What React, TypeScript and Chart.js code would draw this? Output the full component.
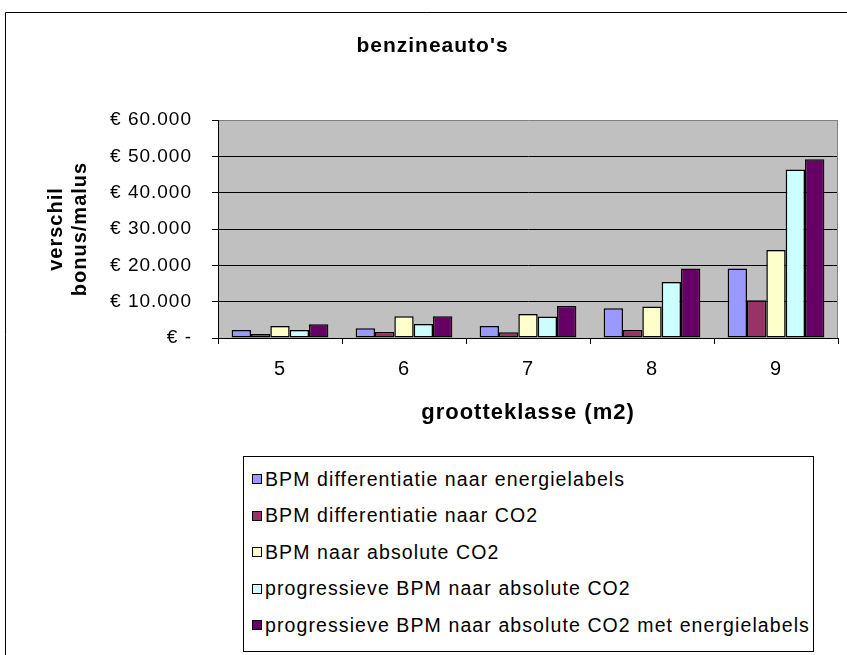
import React, { useEffect, useRef } from "react";
import { Chart, registerables } from "chart.js";

Chart.register(...registerables);

const chartTitle = "benzineauto's";
const categories = ["5", "6", "7", "8", "9"];
const seriesNames = [
  "BPM differentiatie naar energielabels",
  "BPM differentiatie naar CO2",
  "BPM naar absolute CO2",
  "progressieve BPM naar absolute CO2",
  "progressieve BPM naar absolute CO2 met energielabels",
];
const diffEnergielabels = [2200, 2700, 3300, 8200, 19100];
const diffCO2 = [1100, 1650, 1550, 2200, 10400];
const absoluteCO2 = [3300, 6000, 6600, 8650, 24200];
const progAbsoluteCO2 = [2200, 3850, 5900, 15400, 46400];
const progAbsoluteCO2Energielabels = [3800, 6000, 8800, 19100, 49200];
const seriesValues = [diffEnergielabels, diffCO2, absoluteCO2, progAbsoluteCO2, progAbsoluteCO2Energielabels];
const seriesColors = ["#9999FF", "#993366", "#FFFFCC", "#CCFFFF", "#660066"];
const yMin = 0;
const yMax = 60000;
const yStep = 10000;
const yAxisTitle = ["verschil", "bonus/malus"];
const xAxisTitle = "grootteklasse (m2)";

const FONT = "'Liberation Sans', Arial, sans-serif";

function formatEuro(v: number): string {
  if (v === 0) return "€ -";
  return "€ " + Math.round(v).toString().replace(/\B(?=(\d{3})+(?!\d))/g, ".");
}

const plotDecor = {
  id: "plotDecor",
  beforeDraw(chart: any) {
    const { ctx, chartArea } = chart;
    const { left, top, right, bottom } = chartArea;
    ctx.save();
    ctx.fillStyle = "#ffffff";
    ctx.fillRect(0, 0, chart.width, chart.height);
    ctx.strokeStyle = "#000000";
    ctx.lineWidth = 1;
    ctx.beginPath();
    ctx.moveTo(5.5, chart.height + 5);
    ctx.lineTo(5.5, 12.5);
    ctx.lineTo(chart.width + 5, 12.5);
    ctx.stroke();
    ctx.fillStyle = "#C0C0C0";
    ctx.fillRect(left, top, right - left, bottom - top);
    ctx.restore();
    try {
      (ctx as any).letterSpacing = "1px";
    } catch (e) {}
  },
  beforeDatasetsDraw(chart: any) {
    const { ctx, chartArea } = chart;
    ctx.save();
    ctx.strokeStyle = "#808080";
    ctx.lineWidth = 1;
    ctx.beginPath();
    ctx.moveTo(Math.round(chartArea.right) - 0.5, chartArea.top);
    ctx.lineTo(Math.round(chartArea.right) - 0.5, chartArea.bottom);
    ctx.stroke();
    ctx.restore();
  },
};

export default function App() {
  const canvasRef = useRef<HTMLCanvasElement | null>(null);

  useEffect(() => {
    if (!canvasRef.current) return;
    const chart = new Chart(canvasRef.current, {
      type: "bar",
      data: {
        labels: categories,
        datasets: seriesNames.map((name, i) => ({
          label: name,
          data: seriesValues[i],
          backgroundColor: seriesColors[i],
          borderColor: "#000000",
          borderWidth: 1.5,
          borderSkipped: false,
          categoryPercentage: 0.78,
          barPercentage: 1.0,
        })),
      },
      options: {
        animation: false,
        responsive: false,
        devicePixelRatio: 1,
        layout: { padding: { left: 27, right: 9, top: 0, bottom: 229 } },
        plugins: {
          legend: { display: false },
          tooltip: { enabled: false },
          title: {
            display: true,
            text: chartTitle,
            color: "#000000",
            font: { family: FONT, size: 21, weight: "bold" },
            padding: { top: 34, bottom: 60.8 },
          },
        },
        scales: {
          x: {
            afterFit: (scale: any) => {
              scale.height = 88;
            },
            grid: {
              display: true,
              drawOnChartArea: false,
              drawTicks: true,
              tickLength: 6,
              color: "#000000",
              offset: true,
            },
            border: { display: true, color: "#000000", width: 1 },
            ticks: {
              color: "#000000",
              font: { family: FONT, size: 20 },
              padding: 13,
              maxRotation: 0,
            },
            title: {
              display: true,
              text: xAxisTitle,
              color: "#000000",
              font: { family: FONT, size: 22, weight: "bold" },
              padding: { top: 0, bottom: 0 },
            },
          },
          y: {
            min: yMin,
            max: yMax,
            afterFit: (scale: any) => {
              scale.width = 191;
            },
            grid: {
              display: true,
              drawOnChartArea: true,
              drawTicks: true,
              tickLength: 6,
              color: (c: any) => (c.tick && c.tick.value === yMax ? "#808080" : "#000000"),
              tickColor: "#000000",
            },
            border: { display: true, color: "#000000", width: 1 },
            ticks: {
              stepSize: yStep,
              color: "#000000",
              font: { family: FONT, size: 19 },
              padding: 20,
              callback: (v: any) => formatEuro(Number(v)),
            },
            title: {
              display: true,
              text: yAxisTitle,
              color: "#000000",
              font: { family: FONT, size: 20, weight: "bold" },
              padding: { top: 17, bottom: 0 },
            },
          },
        },
      },
      plugins: [plotDecor],
    } as any);
    return () => chart.destroy();
  }, []);

  return (
    <div
      style={{
        position: "absolute",
        left: 0,
        top: 0,
        width: 847,
        height: 655,
        overflow: "hidden",
        background: "#ffffff",
      }}
    >
      <canvas ref={canvasRef} width={847} height={655} style={{ display: "block", width: 847, height: 655 }} />
      <div
        style={{
          position: "absolute",
          left: 243,
          top: 456,
          width: 571,
          height: 196,
          border: "1px solid #000000",
          boxSizing: "border-box",
          background: "#ffffff",
          fontFamily: FONT,
          fontSize: 19.5,
          letterSpacing: "1.1px",
          color: "#000000",
          paddingTop: 3.75,
        }}
      >
        {seriesNames.map((name, i) => (
          <div
            key={name}
            style={{ display: "flex", alignItems: "center", height: 36.5, paddingLeft: 8, whiteSpace: "nowrap" }}
          >
            <span
              style={{
                display: "inline-block",
                width: 10,
                height: 10,
                boxSizing: "border-box",
                border: "1px solid #000000",
                background: seriesColors[i],
                marginRight: 3,
                flex: "none",
              }}
            />
            <span>{name}</span>
          </div>
        ))}
      </div>
    </div>
  );
}
